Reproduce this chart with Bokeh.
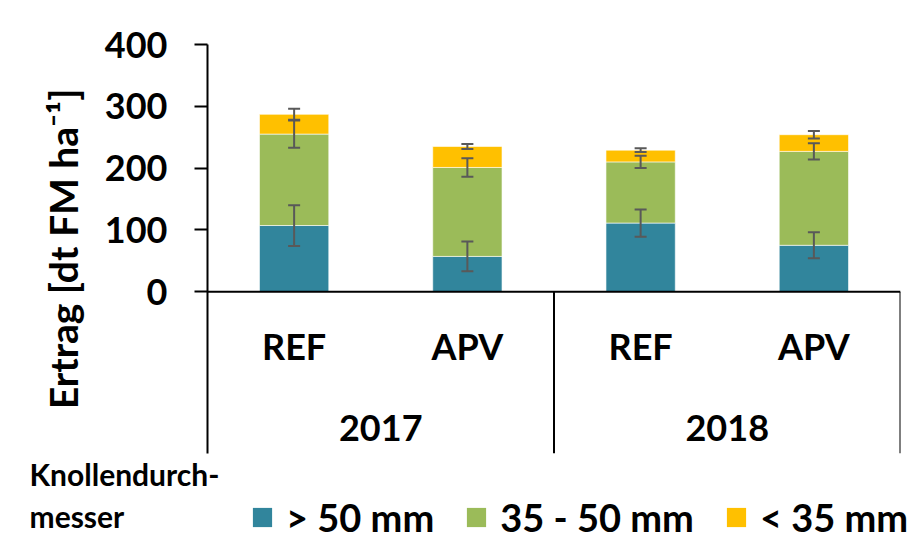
from bokeh.plotting import figure
from bokeh.layouts import column
from bokeh.models import (FactorRange, Range1d, ColumnDataSource, FixedTicker, Span,
                          Whisker, TeeHead, Legend, LegendItem, Label)
from bokeh.core.properties import value
from bokeh.embed import file_html
from bokeh.resources import INLINE

# ---- data ----
years = ["2017", "2018"]
treatments = ["REF", "APV"]
factors = [(y, t) for y in years for t in treatments]
size_classes = ["> 50 mm", "35 - 50 mm", "< 35 mm"]
gt50 = [107, 57, 111, 75]
mid = [148, 144, 99, 152]
lt35 = [32, 34, 19, 27]
err_gt50 = [33, 24, 22, 21]
err_mid = [22, 15, 10, 13]
err_lt35 = [9, 4, 3, 6]
colors = ["#31859C", "#9BBB59", "#FFC000"]
y_ticks = [0, 100, 200, 300, 400]
legend_title = ["Knollendurch-", "messer"]
y_title = "Ertrag [dt FM ha\u207b\u00b9]"

FONT = "Lato"
Y_BOTTOM = -262

src = ColumnDataSource(dict(x=factors, gt50=gt50, mid=mid, lt35=lt35))

x_range = FactorRange(*factors, factor_padding=0, group_padding=0, range_padding=0)
p = figure(x_range=x_range, y_range=Range1d(Y_BOTTOM, 400), width=912, height=455,
           output_backend="svg", toolbar_location=None,
           min_border_left=207, min_border_right=12, min_border_top=44, min_border_bottom=2)
p.frame_align = False
p.outline_line_color = None
p.xgrid.visible = False
p.ygrid.visible = False
p.xaxis.visible = False

rs = p.vbar_stack(["gt50", "mid", "lt35"], x="x", width=0.4, color=colors, source=src,
                  line_color="white", line_width=1, line_alpha=0.6)

# error bars at cumulative tops
c1 = gt50
c2 = [a + b for a, b in zip(gt50, mid)]
c3 = [a + b + c for a, b, c in zip(gt50, mid, lt35)]
for tops, errs in [(c1, err_gt50), (c2, err_mid), (c3, err_lt35)]:
    es = ColumnDataSource(dict(base=factors,
                               upper=[t + e for t, e in zip(tops, errs)],
                               lower=[t - e for t, e in zip(tops, errs)]))
    w = Whisker(base="base", upper="upper", lower="lower", source=es, level="annotation",
                line_color="#595959", line_width=2,
                upper_head=TeeHead(size=12, line_color="#595959", line_width=2),
                lower_head=TeeHead(size=12, line_color="#595959", line_width=2))
    p.add_layout(w)

# y axis
ya = p.yaxis[0]
ya.ticker = FixedTicker(ticks=y_ticks)
ya.axis_line_width = 2
ya.major_tick_line_width = 2
ya.major_tick_out = 13
ya.major_tick_in = 0
ya.minor_tick_line_color = None
ya.major_label_standoff = 27
ya.major_label_text_font = FONT
ya.major_label_text_font_style = "bold"
ya.major_label_text_font_size = "36px"
ya.major_label_text_color = "black"
ya.axis_label = y_title
ya.axis_label_text_font = FONT
ya.axis_label_text_font_style = "bold"
ya.axis_label_text_font_size = "39px"
ya.axis_label_text_color = "black"
ya.axis_label_standoff = 16

# category axis (drawn below the zero line)
p.add_layout(Span(location=0, dimension="width", line_color="black", line_width=2))
p.segment(x0=[2, 4], y0=[0, 0], x1=[2, 4], y1=[Y_BOTTOM, Y_BOTTOM], line_color="black", line_width=2)
lab_src = ColumnDataSource(dict(x=factors, t=[f[1] for f in factors], y=[-87.5] * len(factors)))
p.text(x="x", y="y", text="t", source=lab_src, text_font=value(FONT), text_font_style="bold",
       text_font_size="36px", text_align="center", text_baseline="middle", text_color="black")
yr_src = ColumnDataSource(dict(x=years, t=years, y=[-220] * len(years)))
p.text(x="x", y="y", text="t", source=yr_src, text_font=value(FONT), text_font_style="bold",
       text_font_size="36px", text_align="center", text_baseline="middle", text_color="black")

# legend strip
q = figure(x_range=Range1d(0, 1), y_range=Range1d(0, 1), width=912, height=90,
           output_backend="svg", toolbar_location=None,
           min_border_left=0, min_border_right=0, min_border_top=0, min_border_bottom=0)
q.frame_align = False
q.axis.visible = False
q.grid.visible = False
q.outline_line_color = None
nan = float("nan")
dummies = [q.vbar(x=[nan], top=[nan], width=0.1, fill_color=c, line_color=None) for c in colors]
items = [LegendItem(label=lab, renderers=[r]) for lab, r in zip(size_classes, dummies)]
leg = Legend(items=items, orientation="horizontal", location=(250, 5),
             glyph_width=24, glyph_height=24, label_standoff=12, spacing=30,
             padding=0, margin=0, border_line_color=None, background_fill_alpha=0,
             label_text_font=FONT, label_text_font_style="bold", label_text_font_size="38px",
             label_text_color="black")
q.add_layout(leg, "center")
for txt, yy in zip(legend_title, [72, 30]):
    q.add_layout(Label(x=29, y=yy, x_units="screen", y_units="screen", text=txt,
                       text_font=FONT, text_font_style="bold", text_font_size="30px",
                       text_color="black", text_baseline="alphabetic"))

layout = column(p, q, spacing=0)
open("out.html", "w").write(file_html(layout, INLINE))
